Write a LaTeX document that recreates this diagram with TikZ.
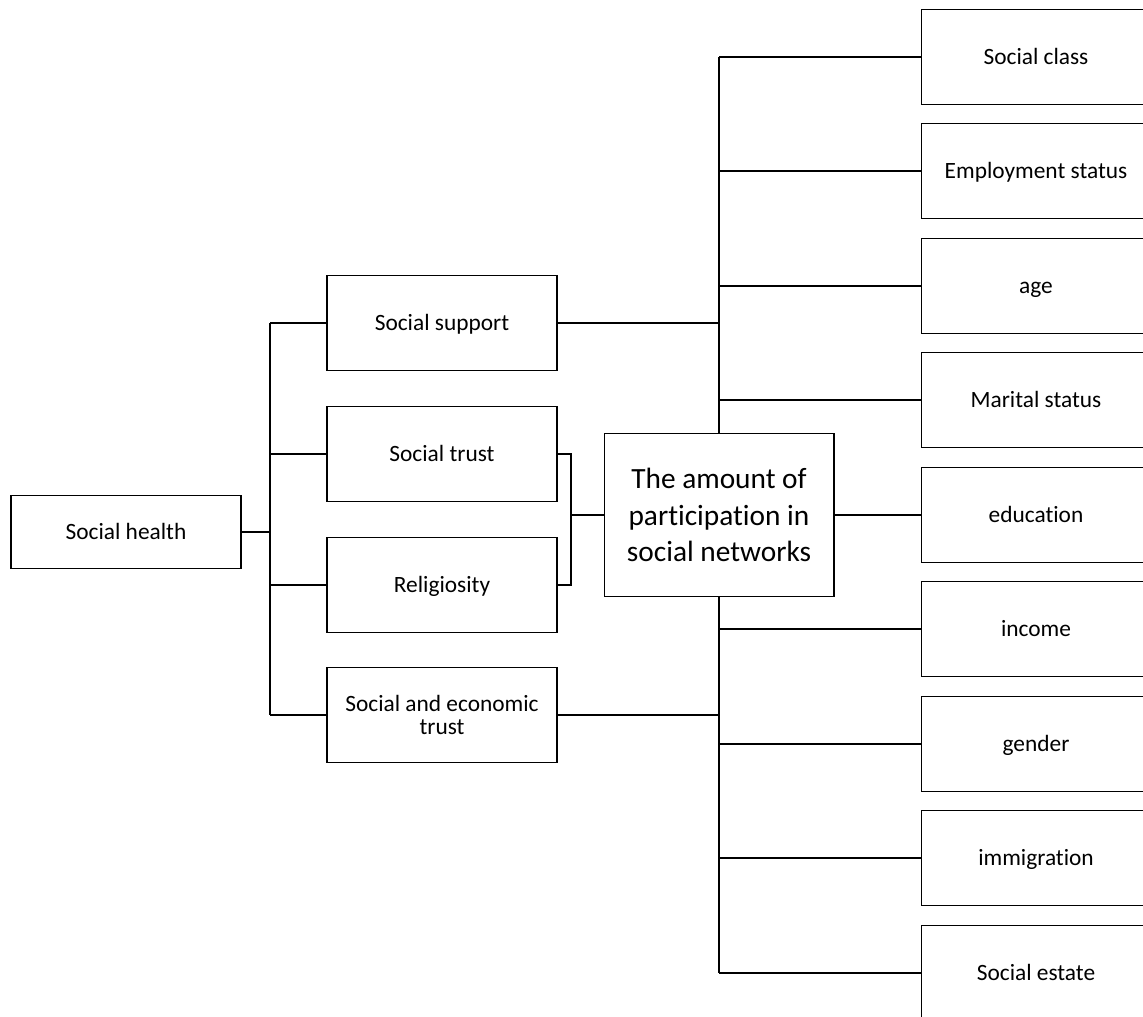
\documentclass[tikz,border=0pt]{standalone}
\usepackage{fontspec}
\setmainfont{Carlito}[Ligatures={TeX,NoCommon}]

\begin{document}
\begin{tikzpicture}[x=0.02cm, y=-0.02cm,
	box/.style={draw, line width=0.6pt, minimum width=4.6cm, minimum height=1.9cm, inner sep=2pt, align=center, font=\fontsize{13.3}{13.6}\selectfont},
	entry/.style={box, text height=9.6pt, text depth=0.8pt},
	link/.style={line width=0.6pt},
	bus/.style={line width=0.9pt}]
\useasboundingbox (0,0) rectangle (1143,1017);

\draw node[entry, minimum height=1.46cm] (health) at (126,532) {Social health};

\draw node[entry] (support) at (442,323) {Social support};
\draw node[entry] (trust) at (442,454) {Social trust};
\draw node[entry] (religiosity) at (442,585) {Religiosity};
\draw node[box] (econtrust) at (442,715) {Social and economic\\trust};

\draw node[box, minimum height=3.26cm, font=\fontsize{16.7}{20.9}\selectfont] (amount) at (719,515) {The amount of\\participation in\\social networks};

\foreach \name/\y/\txt in {class/57/Social class, employment/171/Employment status, age/286/age, marital/400/Marital status, education/515/education, income/629/income, gender/744/gender, immigration/858/immigration, estate/973/Social estate}
	\draw node[entry] (\name) at (1036,\y) {\txt};

\coordinate (health_) at (270,532);
\coordinate (support_) at (270,323);
\coordinate (trust_) at (270,454);
\coordinate (religiosity_) at (270,585);
\coordinate (econtrust_) at (270,715);
\coordinate (trustrel) at (571,515);
\coordinate (trustrel_top) at (571,454);
\coordinate (trustrel_bot) at (571,585);
\coordinate (supportright) at (719,323);
\coordinate (econright) at (719,715);

\foreach \name/\y in {class/57, employment/171, age/286, marital/400, income/629, gender/744, immigration/858, estate/973}
	\coordinate (\name_) at (719,\y);

% left tree
\draw[bus] (health) -- (health_);
\draw[bus] (support_) -- (econtrust_);
\foreach \to in {support, trust, religiosity, econtrust}
	\draw[link] (\to_) -- (\to);

% into the middle
\draw[link] (support) -- (supportright);
\draw[link] (econtrust) -- (econright);
\draw[link] (trust) -- (trustrel_top) -- (trustrel_bot) -- (religiosity);
\draw[link] (trustrel) -- (amount);

% right tree
\draw[bus] (class_) -- (amount.north);
\draw[bus] (amount.south) -- (estate_);
\draw[link] (amount) -- (education);
\foreach \to in {class, employment, age, marital, income, gender, immigration, estate}
	\draw[link] (\to_) -- (\to);

\end{tikzpicture}
\end{document}
